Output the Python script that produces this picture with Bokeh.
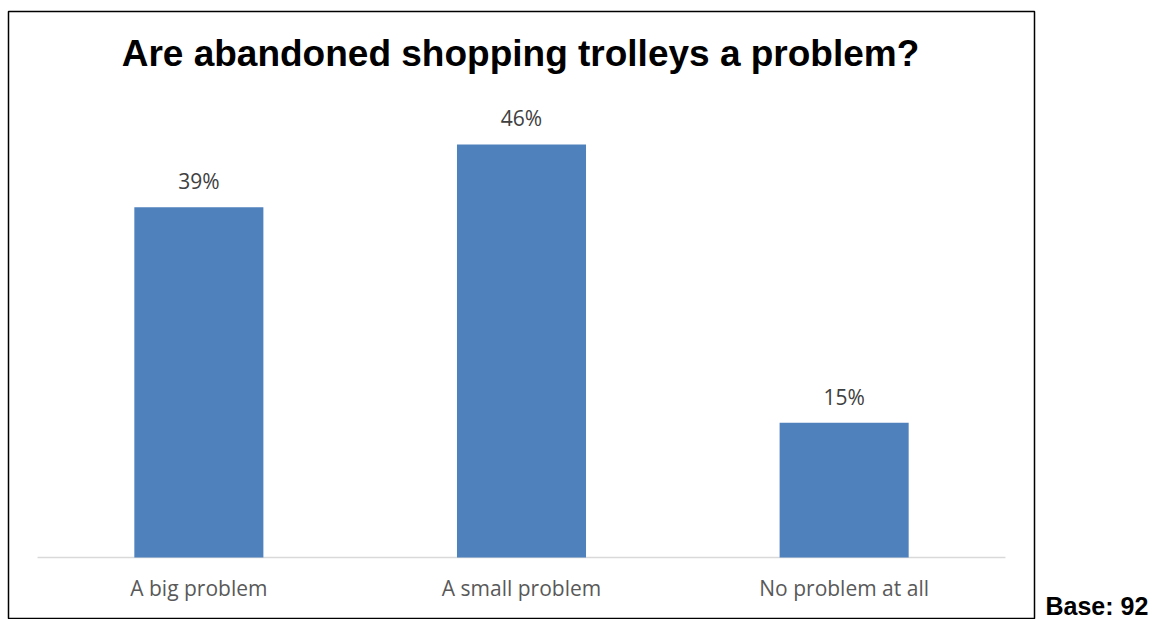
from bokeh.plotting import figure
from bokeh.models import FactorRange, Range1d
from bokeh.layouts import row
from bokeh.core.properties import value
from bokeh.embed import file_html
from bokeh.resources import INLINE

# ---- data ----
categories = ["A big problem", "A small problem", "No problem at all"]
shares = [39, 46, 15]
share_labels = ["39%", "46%", "15%"]
title_text = "Are abandoned shopping trolleys a problem?"
base_text = "Base: 92"

# ---- layout (canvas pixels) ----
total_w, total_h = 1155, 619
main_w = 1040
px_per_unit = 8.98
frame_top_px, axis_px, frame_bottom_px = 11, 557, 618
y_range = Range1d(-(frame_bottom_px - axis_px) / px_per_unit,
                  (axis_px - frame_top_px) / px_per_unit)

p = figure(
    width=main_w, height=total_h,
    x_range=FactorRange(factors=categories, range_padding=0.09,
                        range_padding_units="absolute"),
    y_range=y_range,
    x_axis_location=None, y_axis_location=None,
    output_backend="svg", toolbar_location=None,
    min_border_left=8, min_border_right=6,
    min_border_top=frame_top_px, min_border_bottom=total_h - frame_bottom_px,
)
p.grid.visible = False
p.outline_line_color = "black"
p.outline_line_width = 1.5
p.background_fill_color = "white"
p.border_fill_color = "white"

# axis baseline from start of first category to end of last
p.segment(x0=[(categories[0], -0.5)], y0=[0],
          x1=[(categories[-1], 0.5)], y1=[0],
          line_color="#D9D9D9", line_width=1.5)

p.vbar(x=categories, top=shares, width=0.4, bottom=0,
       fill_color="#4F81BD", line_color=None)

p.text(x=categories, y=shares, text=share_labels,
       text_font=value("Open Sans"), text_font_size="21px",
       text_color="#404040", text_align="center",
       text_baseline="alphabetic", y_offset=-26)

p.text(x=categories, y=[0] * len(categories), text=categories,
       text_font=value("Open Sans"), text_font_size="21px",
       text_color="#595959", text_align="center",
       text_baseline="alphabetic", y_offset=30)

p.text(x=[categories[1]], y=[(axis_px - 53) / px_per_unit], text=[title_text],
       text_font=value("Liberation Sans"), text_font_style="bold",
       text_font_size="37px", text_color="black", text_align="center",
       text_baseline="alphabetic", x_offset=-1)

# side panel carrying the base note, same vertical scale, frame to the bottom edge
side_w = total_w - main_w
side = figure(
    width=side_w, height=total_h,
    x_range=Range1d(0, side_w),
    y_range=Range1d(-(total_h - axis_px) / px_per_unit,
                    (axis_px - frame_top_px) / px_per_unit),
    x_axis_location=None, y_axis_location=None,
    output_backend="svg", toolbar_location=None,
    min_border_left=0, min_border_right=0,
    min_border_top=frame_top_px, min_border_bottom=0,
)
side.grid.visible = False
side.outline_line_color = None
side.background_fill_color = "white"
side.border_fill_color = "white"
side.text(x=[5], y=[-(606 - axis_px) / px_per_unit], text=[base_text],
          text_font=value("Liberation Sans"), text_font_style="bold",
          text_font_size="25px", text_color="black", text_align="left",
          text_baseline="alphabetic")

layout = row(p, side, spacing=0)
open("out.html", "w").write(file_html(layout, INLINE))
